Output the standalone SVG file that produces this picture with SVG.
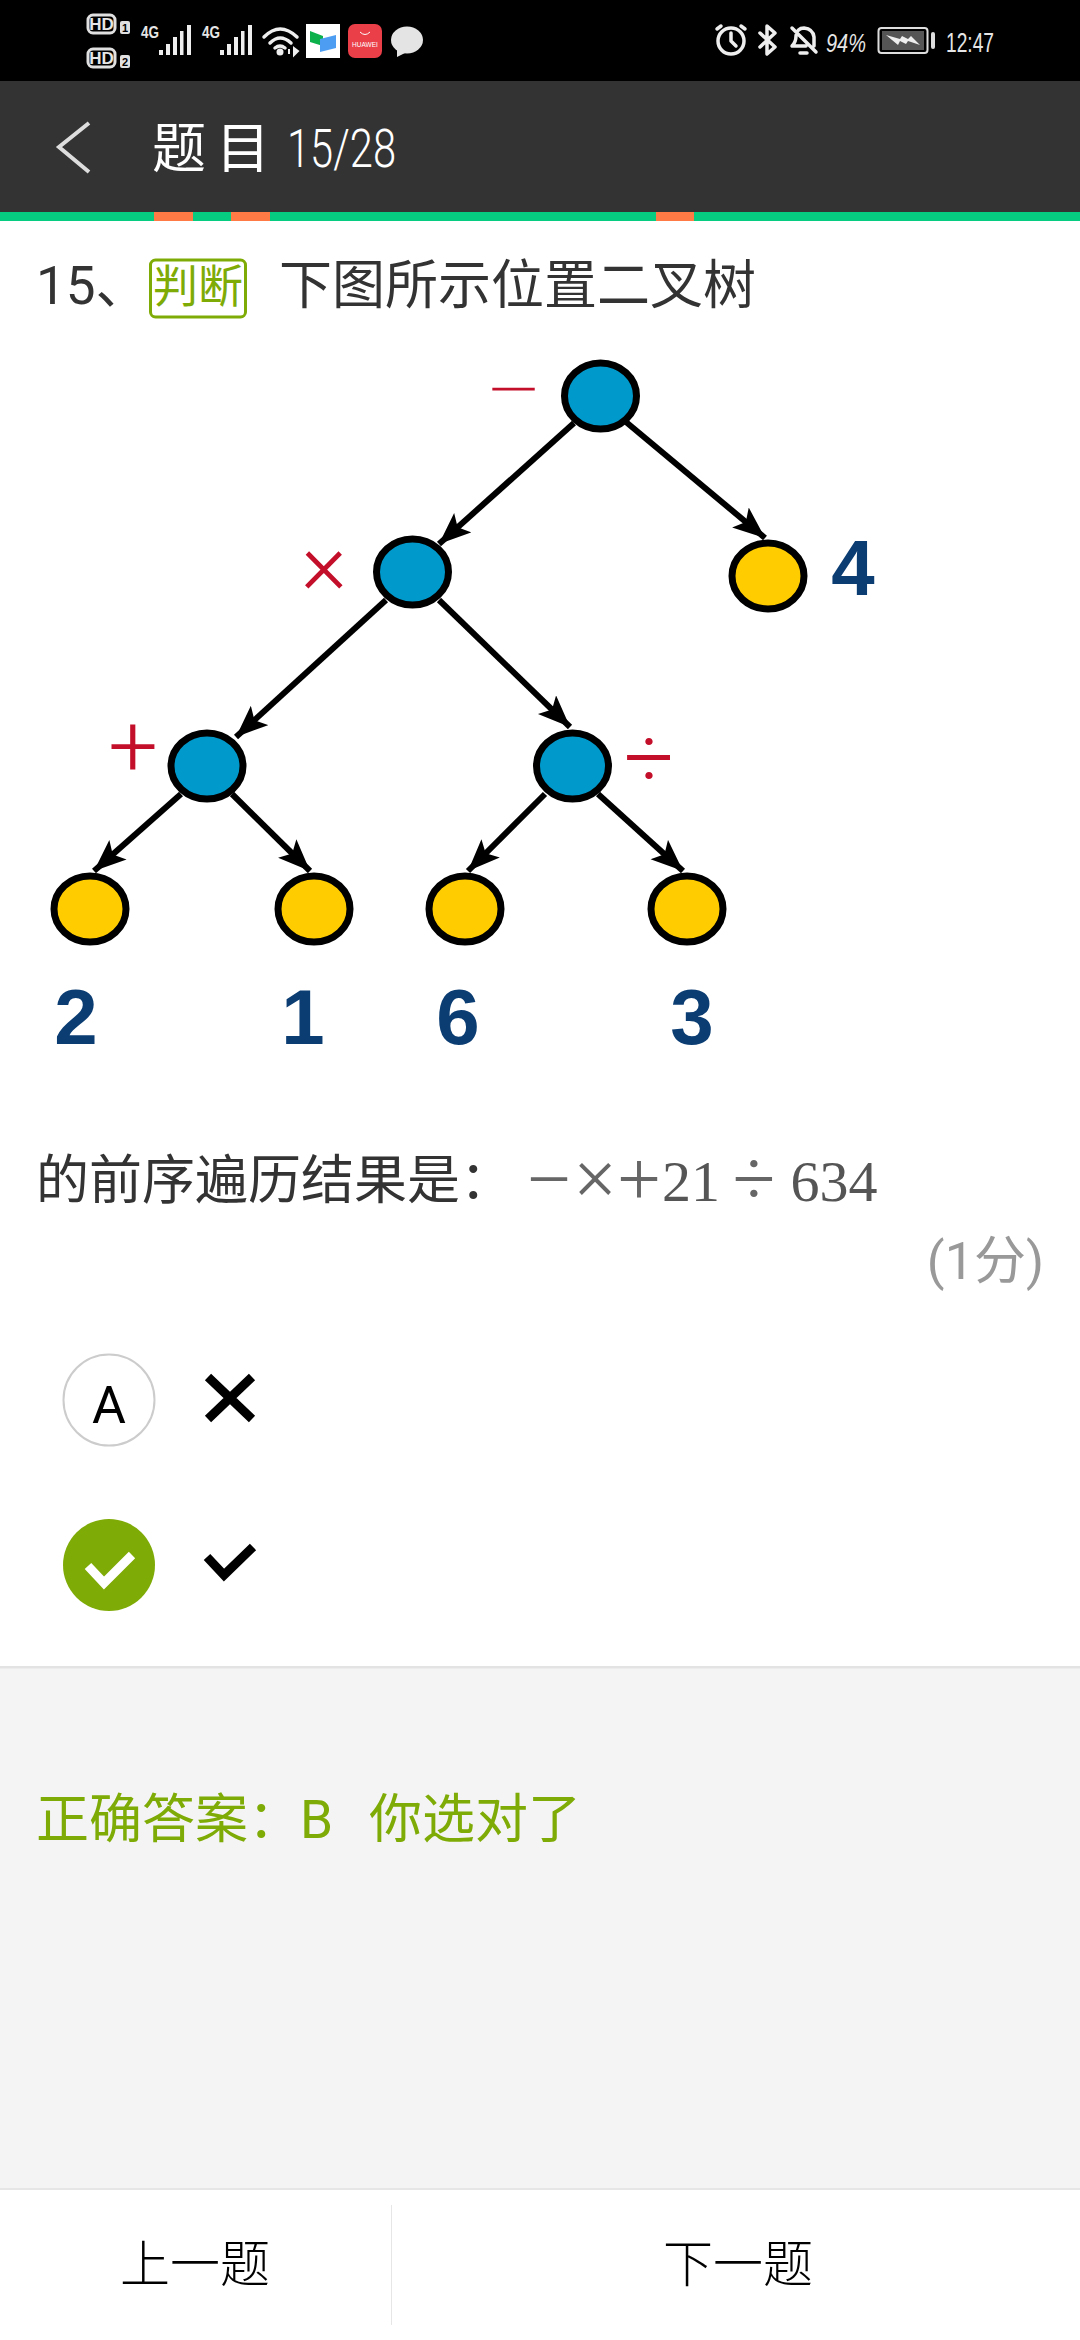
<svg xmlns="http://www.w3.org/2000/svg" width="1080" height="2340" viewBox="0 0 1080 2340">
<style>
text{font-family:"Noto Sans CJK SC","Noto Sans",sans-serif}
.q{font-size:53px;fill:#333}
.ok{font-size:53px;fill:#7fab06}
.rb{font-family:Roboto,"Noto Sans CJK SC",sans-serif}
.st{fill:#e6e6e6;font-family:"Liberation Sans",sans-serif}
.hd{fill:none;stroke:#e0e0e0;stroke-width:3}
.bar{fill:#eee}
.ic{fill:none;stroke:#eee;stroke-width:3.5;stroke-linecap:round;stroke-linejoin:round}
.edge{stroke:#000;stroke-width:6;fill:none;marker-end:url(#ah)}
.op{fill:#c40f2a;font-family:Roboto,sans-serif;font-weight:300;font-size:84px;text-anchor:middle}
.num{fill:#0b3d73;font-family:"Liberation Sans",sans-serif;font-weight:700;font-size:78px;text-anchor:middle}
.inner{fill:#0099cc;stroke:#000;stroke-width:7}
.leaf{fill:#ffcc00;stroke:#000;stroke-width:7}
.mth{font-family:"Liberation Serif",serif;font-size:58px;fill:#555;text-anchor:middle}
.mop{font-family:"Liberation Serif",serif;font-size:78px;fill:#666;text-anchor:middle}
.nav{font-size:48px;font-weight:300;fill:#000}
</style>
<defs>
<marker id="ah" markerUnits="userSpaceOnUse" markerWidth="34" markerHeight="28" refX="32" refY="13" orient="auto">
<path d="M0,0 L32,13 L0,26 L7,13Z" fill="#000"/>
</marker>
</defs>
<rect width="1080" height="2340" fill="#fff"/>

<g id="status-bar">
<rect width="1080" height="81" fill="#000"/>
<rect class="hd" x="88" y="15" width="27" height="18" rx="5"/>
<text class="st" x="101.500" y="30" font-size="17" font-weight="700" text-anchor="middle">HD</text>
<rect class="hd" x="88" y="49" width="27" height="18" rx="5"/>
<text class="st" x="101.500" y="64" font-size="17" font-weight="700" text-anchor="middle">HD</text>
<rect x="120" y="21" width="10" height="13" rx="2" fill="#e0e0e0"/>
<text x="125" y="32" font-size="11" font-weight="700" fill="#000" text-anchor="middle" style="font-family:'Liberation Sans',sans-serif">1</text>
<rect x="120" y="55" width="10" height="13" rx="2" fill="#e0e0e0"/>
<text x="125" y="66" font-size="11" font-weight="700" fill="#000" text-anchor="middle" style="font-family:'Liberation Sans',sans-serif">2</text>
<text class="st" x="141" y="38" font-size="17" font-weight="700" textLength="18" lengthAdjust="spacingAndGlyphs">4G</text>
<text class="st" x="202" y="38" font-size="17" font-weight="700" textLength="18" lengthAdjust="spacingAndGlyphs">4G</text>
<g class="bar">
<rect x="159" y="50" width="4" height="5"/><rect x="166" y="44" width="4" height="11"/><rect x="173" y="37" width="4" height="18"/><rect x="180" y="31" width="3.500" height="24"/><rect x="187" y="25" width="4" height="30"/>
<rect x="220" y="50" width="4" height="5"/><rect x="227" y="44" width="4" height="11"/><rect x="234" y="37" width="4" height="18"/><rect x="241" y="31" width="3.500" height="24"/><rect x="248" y="25" width="4" height="30"/>
</g>
<path class="ic" d="M264,37 Q280,21 297,37 M270,43 Q280,33 291,43 M275,48 Q280,44 285,48"/>
<circle cx="280" cy="52" r="3.500" fill="#eee"/>
<path d="M289,54 L289,49 M294,48 L298,51 L294,55Z" stroke="#eee" stroke-width="2" fill="#eee"/>
<rect x="306" y="24" width="34" height="34" fill="#fff"/>
<path d="M310,31 L323,36 L323,46 L310,42Z" fill="#0db14b"/>
<path d="M320,39 L336,35 L336,48 L320,52Z" fill="#4d9df2"/>
<rect x="348" y="24" width="34" height="34" rx="7" fill="#ea3f49"/>
<path d="M360,32 Q365,37 370,32" fill="none" stroke="#fff" stroke-width="1"/>
<text x="365" y="47" font-size="6.500" fill="#fff" text-anchor="middle" style="font-family:'Liberation Sans',sans-serif">HUAWEI</text>
<ellipse cx="407" cy="40" rx="16" ry="13.500" fill="#e4e4e4"/>
<path d="M397,49 L397,57 L407,52Z" fill="#e4e4e4"/>
<circle class="ic" cx="731" cy="41" r="13"/>
<path class="ic" d="M731,33 V41 L736,46 M717,29 L721,26 M745,29 L741,26"/>
<path class="ic" d="M760,33 L775,47 L767,54 V26 L775,33 L760,47"/>
<path class="ic" d="M792,46 Q796,42 796,36 Q797,28 804,28 Q813,29 814,37 L814,46 M792,46 H806 M792,28 L816,52 M800,53 H807"/>
<text class="st" x="826" y="52" font-size="25" textLength="40" lengthAdjust="spacingAndGlyphs" font-style="italic">94%</text>
<rect x="878.500" y="28" width="49" height="25" rx="3" fill="none" stroke="#ddd" stroke-width="2"/>
<rect x="882" y="31" width="42" height="19" fill="#555"/>
<path d="M886,35 L900,39 L902,36 L908,39 L911,36 L920,45 L908,41 L906,44 L900,41 L898,45Z" fill="#eee"/>
<rect x="931" y="32" width="4" height="17" rx="2" fill="#ddd"/>
<text class="st" x="946" y="52" font-size="27" textLength="48" lengthAdjust="spacingAndGlyphs">12:47</text>
</g>

<g id="header">
<rect y="81" width="1080" height="131" fill="#333"/>
<path d="M89,123 L59,147 L89,172" fill="none" stroke="#ddd" stroke-width="4"/>
<text x="152" y="168" font-size="54" font-weight="400" fill="#fff">题</text>
<text x="216" y="168" font-size="54" font-weight="400" fill="#fff">目</text>
<text class="rb" x="287" y="167" font-size="54" font-weight="300" fill="#fff" textLength="109" lengthAdjust="spacingAndGlyphs">15/28</text>
<rect y="212" width="1080" height="9" fill="#05cc80"/>
<rect x="154" y="212" width="39" height="9" fill="#ff7a45"/>
<rect x="231" y="212" width="39" height="9" fill="#ff7a45"/>
<rect x="656" y="212" width="38" height="9" fill="#ff7a45"/>
</g>

<g id="question">
<text class="q rb" x="36" y="304">15、</text>
<rect x="150.500" y="260" width="95" height="57" rx="5" fill="none" stroke="#7fab06" stroke-width="3"/>
<text x="153" y="303" font-size="45" fill="#7fab06">判断</text>
<text class="q" x="279" y="304">下图所示位置二叉树</text>
</g>

<g id="connectors">
<line class="edge" x1="574" y1="423" x2="439" y2="544"/>
<line class="edge" x1="626" y1="422" x2="765" y2="538"/>
<line class="edge" x1="386" y1="600" x2="236" y2="737"/>
<line class="edge" x1="439" y1="600" x2="570" y2="727"/>
<line class="edge" x1="181" y1="794" x2="94" y2="871"/>
<line class="edge" x1="232" y1="794" x2="310" y2="871"/>
<line class="edge" x1="545" y1="794" x2="468" y2="871"/>
<line class="edge" x1="598" y1="794" x2="683" y2="871"/>
</g>

<g id="node-minus"><ellipse class="inner" cx="600.500" cy="396" rx="36" ry="33"/><text class="op" x="514" y="427" style="font-size:104px;font-weight:100">−</text></g>
<g id="node-times"><ellipse class="inner" cx="412.500" cy="572" rx="36" ry="33"/><text class="op" x="324" y="593" style="font-size:88px">×</text></g>
<g id="node-plus"><ellipse class="inner" cx="207" cy="766" rx="36" ry="33"/><text class="op" x="133" y="776" style="font-size:88px">+</text></g>
<g id="node-divide"><ellipse class="inner" cx="572.500" cy="766" rx="36" ry="33"/><text class="op" x="649" y="788" style="font-size:88px">÷</text></g>
<g id="node-4"><ellipse class="leaf" cx="768" cy="576" rx="36" ry="33"/><text class="num" x="853" y="595">4</text></g>
<g id="node-2"><ellipse class="leaf" cx="90" cy="909" rx="36" ry="33"/><text class="num" x="76" y="1044">2</text></g>
<g id="node-1"><ellipse class="leaf" cx="314" cy="909" rx="36" ry="33"/><text class="num" x="303" y="1044">1</text></g>
<g id="node-6"><ellipse class="leaf" cx="465" cy="909" rx="36" ry="33"/><text class="num" x="458" y="1044">6</text></g>
<g id="node-3"><ellipse class="leaf" cx="687" cy="909" rx="36" ry="33"/><text class="num" x="692" y="1044">3</text></g>

<g id="prompt">
<text class="q" x="36" y="1199">的前序遍历结果是：</text>
<text class="mop" x="549" y="1205">−</text>
<text class="mop" x="595" y="1205">×</text>
<text class="mop" x="639" y="1205">+</text>
<text class="mth" x="691" y="1201">21</text>
<text class="mop" x="754" y="1205">÷</text>
<text class="mth" x="834" y="1201">634</text>
<text class="rb" x="1044" y="1279" font-size="52" fill="#999" text-anchor="end">(1分)</text>
</g>

<g id="option-a">
<circle cx="109" cy="1400" r="45.500" fill="#fff" stroke="#ccc" stroke-width="2"/>
<text class="rb" x="109" y="1423" font-size="52" fill="#000" text-anchor="middle">A</text>
<path d="M208,1377 L252,1419 M252,1377 L208,1419" stroke="#000" stroke-width="9" fill="none"/>
</g>
<g id="option-b">
<circle cx="109" cy="1565" r="46" fill="#7fab06"/>
<path d="M88,1566 L104,1583 L132,1555" stroke="#fff" stroke-width="9" fill="none"/>
<path d="M207,1557 L224,1575 L253,1547" stroke="#000" stroke-width="9" fill="none"/>
</g>

<g id="answer">
<rect y="1666" width="1080" height="524" fill="#f4f4f4"/>
<rect y="1666" width="1080" height="2.500" fill="#e3e3e3"/>
<text class="ok" x="36" y="1838">正确答案：</text>
<text class="ok rb" x="300" y="1838">B</text>
<text class="ok" x="369" y="1838">你选对了</text>
</g>

<g id="nav">
<rect y="2189" width="1080" height="151" fill="#fff"/>
<rect y="2188" width="1080" height="2" fill="#e6e6e6"/>
<rect x="391" y="2205" width="1" height="120" fill="#e6e6e6"/>
<text class="nav" x="120" y="2282" style="font-size:50px">上一题</text>
<text class="nav" x="663" y="2282" style="font-size:50px">下一题</text>
</g>
</svg>
